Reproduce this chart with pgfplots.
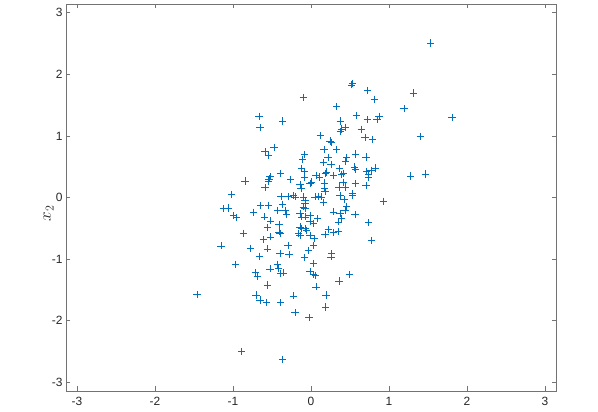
\documentclass[border=0pt]{standalone}
\usepackage{pgfplots}
\pgfplotsset{compat=1.18}
\usepackage{fontspec}
\setmainfont{Liberation Sans}
\definecolor{mblue}{rgb}{0,0.447,0.741}
\definecolor{mgray}{rgb}{0.15,0.15,0.15}
\begin{document}
\begin{tikzpicture}
\begin{axis}[
  scale only axis,
  width=490bp, height=387bp,
  xmin=-3.1416, xmax=3.1416, ymin=-3.1416, ymax=3.1416,
  xtick={-3,-2,-1,0,1,2,3}, ytick={-3,-2,-1,0,1,2,3},
  tick align=inside,
  major tick length=4.5bp,
  axis line style={black!55, line width=0.6bp},
  tick style={black!55, line width=0.6bp},
  /pgf/number format/assume math mode=true,
  ticklabel style={font=\fontsize{12}{14}\selectfont, text=mgray},
  xticklabel style={yshift=-3bp},
  ylabel={$x_2$},
  every axis y label/.style={at={(ticklabel cs:0.5)}, rotate=90, anchor=center, xshift=-16bp, font=\fontsize{17}{19}\selectfont, text=mgray},
]
\addplot[only marks, mark=+, mark size=3.6bp, mark options={line width=0.6bp}, color=mblue] coordinates {
(1.535,2.507)(0.529,1.849)(0.522,1.829)(0.722,1.740)(1.312,1.696)(-0.099,1.622)
(0.812,1.594)(0.329,1.480)(1.192,1.443)(0.581,1.330)(0.872,1.318)(0.846,1.270)
(0.722,1.265)(0.376,1.242)(1.808,1.302)(-0.667,1.318)(-0.368,1.242)(-0.654,1.135)
(0.445,1.140)(0.388,1.112)(0.376,1.070)(0.645,1.108)(0.119,1.002)(0.692,0.973)
(0.786,0.940)(1.401,0.994)(0.244,0.918)(0.265,0.892)(-0.474,0.816)(-0.590,0.743)
(-0.547,0.686)(0.167,0.783)(0.329,0.783)(-0.083,0.702)(-0.106,0.616)(0.573,0.707)
(0.458,0.649)(0.445,0.584)(0.705,0.658)(0.218,0.653)(0.158,0.568)(0.256,0.540)
(1.278,0.350)(1.465,0.383)(0.824,0.480)(0.769,0.443)(0.714,0.422)(0.740,0.373)
(0.735,0.324)(0.560,0.496)(0.573,0.459)(0.363,0.470)(0.394,0.373)(0.414,0.389)
(0.286,0.357)(0.064,0.362)(0.112,0.334)(0.183,0.389)(0.201,0.415)(-0.119,0.470)
(-0.083,0.426)(-0.083,0.324)(-0.394,0.389)(-0.526,0.337)(-0.538,0.302)(-0.547,0.269)
(-0.846,0.269)(-0.260,0.292)(-0.013,0.227)(-0.141,0.211)(-0.128,0.146)(0.171,0.237)
(0.410,0.248)(0.568,0.227)(0.705,0.191)(0.173,0.143)(0.179,0.094)(0.359,0.172)
(0.436,0.172)(0.529,0.065)(-0.590,0.159)(-1.017,0.054)(-0.385,0.021)(-0.291,0.013)
(-0.227,0.029)(-0.205,0.010)(-0.099,0.010)(0.051,0.010)(0.094,0.021)(0.137,0.010)
(0.372,0.037)(0.535,0.037)(0.009,0.253)(0.423,-0.036)(0.927,-0.060)(-0.077,-0.044)
(-0.077,-0.097)(-0.099,-0.152)(-0.077,-0.178)(0.158,-0.084)(0.458,-0.141)(0.436,-0.206)
(-0.368,-0.109)(-0.645,-0.130)(-0.547,-0.125)(-1.124,-0.178)(-1.060,-0.169)(-0.996,-0.287)
(-0.953,-0.324)(-0.740,-0.238)(-0.427,-0.206)(-0.333,-0.206)(-0.312,-0.271)(-0.599,-0.315)
(-0.517,-0.379)(-0.141,-0.259)(-0.119,-0.315)(-0.077,-0.315)(-0.013,-0.287)(0.081,-0.341)
(0.286,-0.233)(0.372,-0.259)(0.394,-0.341)(0.564,-0.276)(0.350,-0.396)(-0.013,-0.384)
(0.029,-0.422)(0.735,-0.405)(-0.560,-0.482)(-0.410,-0.433)(-0.410,-0.558)(-0.397,-0.584)
(-0.141,-0.477)(-0.119,-0.503)(-0.068,-0.503)(-0.055,-0.530)(-0.163,-0.584)(-0.141,-0.611)
(0.222,-0.514)(0.286,-0.568)(0.350,-0.546)(0.179,-0.600)(-0.013,-0.611)(0.042,-0.665)
(-0.868,-0.579)(-0.612,-0.681)(-0.517,-0.639)(0.778,-0.692)(-1.154,-0.785)(-0.778,-0.822)
(-0.560,-0.833)(-0.295,-0.773)(0.029,-0.773)(-0.035,-0.855)(0.265,-0.908)(0.256,-0.963)
(-0.282,-0.928)(-0.397,-0.903)(-0.663,-0.952)(-0.086,-0.979)(0.029,-1.070)(-0.971,-1.082)
(-0.432,-1.082)(-0.414,-1.151)(-0.388,-1.232)(-0.355,-1.223)(-0.526,-1.158)(-0.714,-1.216)
(-0.688,-1.287)(-0.013,-1.206)(0.029,-1.249)(0.060,-1.260)(0.491,-1.249)(0.359,-1.357)
(-0.560,-1.422)(0.064,-1.450)(-1.462,-1.573)(-0.705,-1.584)(-0.654,-1.665)(-0.568,-1.703)
(-0.388,-1.703)(-0.227,-1.596)(0.192,-1.584)(0.188,-1.779)(-0.205,-1.865)(-0.026,-1.952)
(-0.888,-2.504)(-0.368,-2.627)
};
\end{axis}
\path ([xshift=-66bp,yshift=-21bp]current axis.south west) ([xshift=42bp,yshift=4bp]current axis.north east);
\end{tikzpicture}
\end{document}
